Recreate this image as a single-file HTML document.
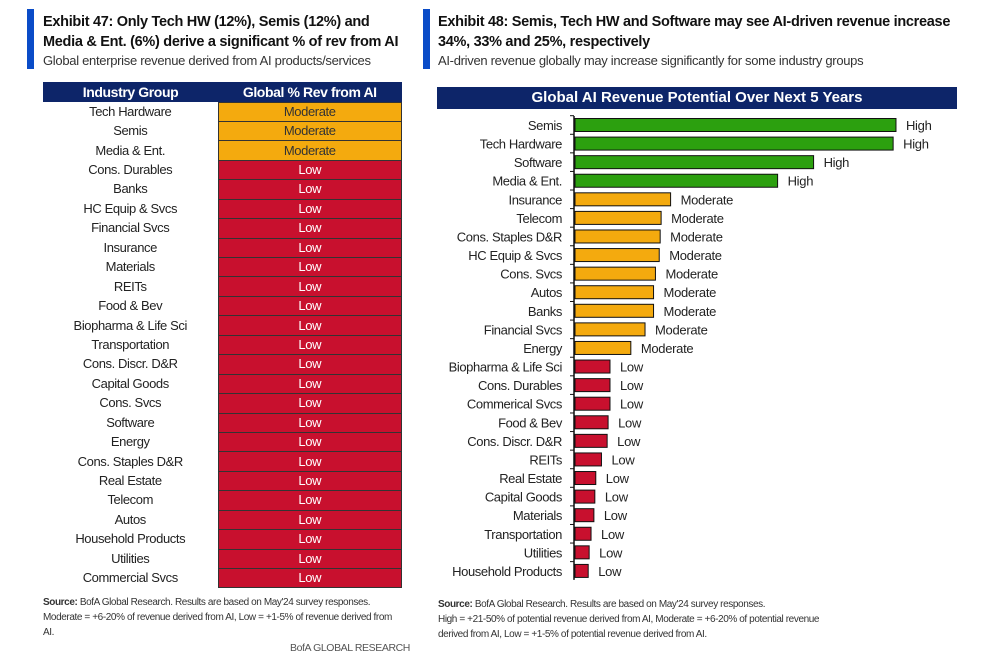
<!DOCTYPE html>
<html><head><meta charset="utf-8">
<style>
body{margin:0;width:985px;height:670px;background:#fff;font-family:"Liberation Sans",sans-serif;position:relative;overflow:hidden;color:#222}
.abs{position:absolute}
.ttl{font-weight:bold;font-size:14.5px;line-height:20px;color:#111;letter-spacing:-0.3px;white-space:nowrap}
.sub{font-size:13px;color:#333;letter-spacing:-0.3px}
.bar{background:#0a4cc8}
table{border-collapse:collapse}
.src{font-size:10px;line-height:15px;color:#333;letter-spacing:-0.4px}
</style></head><body>
<div class="abs bar" style="left:27px;top:9px;width:7px;height:60px"></div>
<div class="abs ttl" style="left:43px;top:12px">Exhibit 47: Only Tech HW (12%), Semis (12%) and<br>Media &amp; Ent. (6%) derive a significant % of rev from AI</div>
<div class="abs sub" style="left:43px;top:53px">Global enterprise revenue derived from AI products/services</div>
<div class="abs" id="tbl" style="left:43px;top:82px;width:359px"></div>
<div class="abs src" style="left:43px;top:595px;width:360px"><b>Source:</b> BofA Global Research. Results are based on May'24 survey responses.<br>Moderate = +6-20% of revenue derived from AI, Low = +1-5% of revenue derived from AI.</div>
<div class="abs src" style="left:290px;top:641px;font-size:10.5px;color:#555">BofA GLOBAL RESEARCH</div>

<div class="abs bar" style="left:423px;top:9px;width:7px;height:60px"></div>
<div class="abs ttl" style="left:438px;top:12px">Exhibit 48: Semis, Tech HW and Software may see AI-driven revenue increase<br>34%, 33% and 25%, respectively</div>
<div class="abs sub" style="left:438px;top:53px">AI-driven revenue globally may increase significantly for some industry groups</div>
<div class="abs" style="left:437px;top:87px;width:520px;height:22px;background:#0d2569;color:#fff;font-weight:bold;font-size:15px;text-align:center;line-height:22px">Global AI Revenue Potential Over Next 5 Years</div>
<svg class="abs" id="chart" style="left:0;top:0" width="985" height="670"></svg>
<div class="abs src" style="left:438px;top:597px;width:400px"><b>Source:</b> BofA Global Research. Results are based on May'24 survey responses.<br>High = +21-50% of potential revenue derived from AI, Moderate = +6-20% of potential revenue derived from AI, Low = +1-5% of potential revenue derived from AI.</div>

<script>
const tblGroups=["Tech Hardware","Semis","Media & Ent.","Cons. Durables","Banks","HC Equip & Svcs","Financial Svcs","Insurance","Materials","REITs","Food & Bev","Biopharma & Life Sci","Transportation","Cons. Discr. D&R","Capital Goods","Cons. Svcs","Software","Energy","Cons. Staples D&R","Real Estate","Telecom","Autos","Household Products","Utilities","Commercial Svcs"];
const tblLevels=["Moderate","Moderate","Moderate","Low","Low","Low","Low","Low","Low","Low","Low","Low","Low","Low","Low","Low","Low","Low","Low","Low","Low","Low","Low","Low","Low"];

const categories=["Semis","Tech Hardware","Software","Media & Ent.","Insurance","Telecom","Cons. Staples D&R","HC Equip & Svcs","Cons. Svcs","Autos","Banks","Financial Svcs","Energy","Biopharma & Life Sci","Cons. Durables","Commerical Svcs","Food & Bev","Cons. Discr. D&R","REITs","Real Estate","Capital Goods","Materials","Transportation","Utilities","Household Products"];
const values=[34,33.7,25.3,21.5,10.2,9.2,9.1,9.0,8.6,8.4,8.4,7.5,6.0,3.8,3.8,3.8,3.6,3.5,2.9,2.3,2.2,2.1,1.8,1.6,1.5];
const levels=["High","High","High","High","Moderate","Moderate","Moderate","Moderate","Moderate","Moderate","Moderate","Moderate","Moderate","Low","Low","Low","Low","Low","Low","Low","Low","Low","Low","Low","Low"];

let h='<table style="width:359px;font-size:13px;letter-spacing:-0.4px"><tr style="background:#0d2569;color:#fff;font-weight:bold;height:20px;font-size:14px"><td style="width:173px;text-align:center">Industry Group</td><td style="text-align:center">Global % Rev from AI</td></tr>';
tblGroups.forEach((g,i)=>{const m=tblLevels[i]==="Moderate";
h+=`<tr style="height:19.45px"><td style="text-align:center;padding:0;line-height:18px">${g.replace('&','&amp;')}</td><td style="text-align:center;padding:0;line-height:18px;background:${m?'#f4aa0e':'#c8102e'};color:${m?'#333':'#fff'};border:1px solid #333">${tblLevels[i]}</td></tr>`;});
h+='</table>';
document.getElementById('tbl').innerHTML=h;

const svg=document.getElementById('chart');const NS='http://www.w3.org/2000/svg';
const x0=574,pxPer=9.47,y0=125,step=18.58,bh=13;
const xs=v=>x0+v*pxPer, ys=i=>y0+i*step;
const col={High:'#2ca00f',Moderate:'#f4aa0e',Low:'#c8102e'};
function mk(t,a){const e=document.createElementNS(NS,t);for(const k in a)e.setAttribute(k,a[k]);svg.appendChild(e);return e;}
const ax=mk('line',{x1:x0,x2:x0,y1:ys(0)-9,y2:ys(categories.length-1)+9,stroke:'#111','stroke-width':1.5});

categories.forEach((c,i)=>{const y=ys(i);
 const tk=mk('line',{x1:x0-4,x2:x0,y1:y-9.3,y2:y-9.3,stroke:'#111'});
 
 const r=mk('rect',{x:x0+1,y:y-bh/2,width:xs(values[i])-x0-1,height:bh,fill:col[levels[i]],stroke:'#111','stroke-width':1});
 
 
 const l=mk('text',{x:x0-12,y:y+5,'text-anchor':'end','font-size':13,'letter-spacing':-0.4,'font-family':'Liberation Sans, sans-serif',fill:'#222'});l.textContent=c;
 
 const v=mk('text',{x:xs(values[i])+10,y:y+5,'font-size':13,'letter-spacing':-0.3,'font-family':'Liberation Sans, sans-serif',fill:'#222'});v.textContent=levels[i];
 
});
</script>
</body></html>
